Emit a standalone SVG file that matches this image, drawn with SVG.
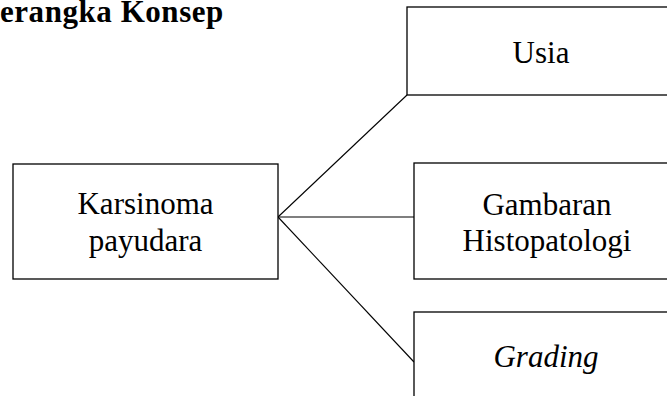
<svg xmlns="http://www.w3.org/2000/svg" width="667" height="396" viewBox="0 0 667 396">
<style>
.box{fill:#fff;stroke:#000;stroke-width:1.3}
.t{font-family:"Liberation Serif","Times New Roman",serif;font-size:31px;fill:#000;text-anchor:middle}
.title{font-family:"Liberation Serif","Times New Roman",serif;font-size:31px;font-weight:bold;fill:#000;letter-spacing:0.55px}
.c{stroke:#000;stroke-width:1.1;fill:none}
</style>
<rect width="667" height="396" fill="#fff"/>
<text class="title" x="0" y="22">erangka Konsep</text>
<g id="connectors">
<line class="c" x1="278" y1="217" x2="407" y2="95"/>
<line class="c" x1="278" y1="217" x2="414" y2="217"/>
<line class="c" x1="278" y1="217" x2="414" y2="362"/>
</g>
<g id="karsinoma">
<rect class="box" x="13" y="164" width="265" height="115"/>
<text class="t" x="145.5" y="214">Karsinoma</text>
<text class="t" x="145.5" y="251">payudara</text>
</g>
<g id="usia">
<rect class="box" x="407" y="7" width="270" height="88"/>
<text class="t" x="541" y="63">Usia</text>
</g>
<g id="gambaran">
<rect class="box" x="414" y="163" width="266" height="116"/>
<text class="t" x="547" y="215">Gambaran</text>
<text class="t" x="547" y="251">Histopatologi</text>
</g>
<g id="grading">
<rect class="box" x="414" y="312" width="266" height="100"/>
<text class="t" x="546" y="367" font-style="italic">Grading</text>
</g>
</svg>
